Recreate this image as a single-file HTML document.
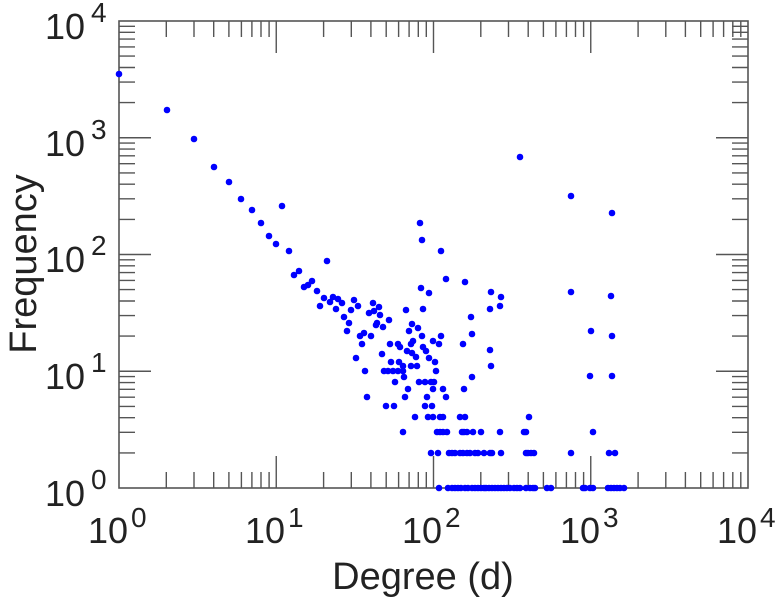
<!DOCTYPE html>
<html><head><meta charset="utf-8"><style>
html,body{margin:0;padding:0;background:#fff;}
svg{display:block;font-family:"Liberation Sans",Arial,sans-serif;}
</style></head><body>
<svg width="779" height="600" viewBox="0 0 779 600" xmlns="http://www.w3.org/2000/svg">
<g stroke="#555" stroke-width="1.4" fill="none">
<path d="M276.25 488v-32M433.5 488v-32M590.75 488v-32M276.25 21v32M433.5 21v32M590.75 21v32
M166.3 488v-16M194 488v-16M213.7 488v-16M228.9 488v-16M241.4 488v-16M251.9 488v-16M261 488v-16M269.1 488v-16
M323.6 488v-16M351.3 488v-16M370.9 488v-16M386.2 488v-16M398.6 488v-16M409.1 488v-16M418.3 488v-16M426.3 488v-16
M480.8 488v-16M508.5 488v-16M528.2 488v-16M543.4 488v-16M555.9 488v-16M566.4 488v-16M575.5 488v-16M583.6 488v-16
M638.1 488v-16M665.8 488v-16M685.4 488v-16M700.7 488v-16M713.1 488v-16M723.6 488v-16M732.8 488v-16M740.8 488v-16
M166.3 21v16M194 21v16M213.7 21v16M228.9 21v16M241.4 21v16M251.9 21v16M261 21v16M269.1 21v16
M323.6 21v16M351.3 21v16M370.9 21v16M386.2 21v16M398.6 21v16M409.1 21v16M418.3 21v16M426.3 21v16
M480.8 21v16M508.5 21v16M528.2 21v16M543.4 21v16M555.9 21v16M566.4 21v16M575.5 21v16M583.6 21v16
M638.1 21v16M665.8 21v16M685.4 21v16M700.7 21v16M713.1 21v16M723.6 21v16M732.8 21v16M740.8 21v16
M119 371.25h32M119 254.5h32M119 137.75h32M748 371.25h-32M748 254.5h-32M748 137.75h-32
M119 452.9h16M119 432.3h16M119 417.7h16M119 406.4h16M119 397.2h16M119 389.3h16M119 382.6h16M119 376.6h16
M119 336.1h16M119 315.6h16M119 301h16M119 289.6h16M119 280.4h16M119 272.6h16M119 265.8h16M119 259.8h16
M119 219.4h16M119 198.8h16M119 184.2h16M119 172.9h16M119 163.7h16M119 155.8h16M119 149.1h16M119 143.1h16
M119 102.6h16M119 82.1h16M119 67.5h16M119 56.1h16M119 46.9h16M119 39.1h16M119 32.3h16M119 26.3h16
M748 452.9h-16M748 432.3h-16M748 417.7h-16M748 406.4h-16M748 397.2h-16M748 389.3h-16M748 382.6h-16M748 376.6h-16
M748 336.1h-16M748 315.6h-16M748 301h-16M748 289.6h-16M748 280.4h-16M748 272.6h-16M748 265.8h-16M748 259.8h-16
M748 219.4h-16M748 198.8h-16M748 184.2h-16M748 172.9h-16M748 163.7h-16M748 155.8h-16M748 149.1h-16M748 143.1h-16
M748 102.6h-16M748 82.1h-16M748 67.5h-16M748 56.1h-16M748 46.9h-16M748 39.1h-16M748 32.3h-16M748 26.3h-16"/>
</g>
<rect x="119" y="21" width="629" height="467" fill="none" stroke="#555" stroke-width="1.6"/>
<path fill="none" stroke="#0000ff" stroke-width="6.6" stroke-linecap="round" d="M119 74h0M167 110h0M194 139h0M214 167h0M229 182h0M241 199h0M252 210h0M261 223h0M269 236h0M276 244h0M289 251h0M282 206h0M327 261h0
M420 223h0M422 240h0M441 251h0M294 275h0M299 271h0M304 287h0M308 285h0M312 281h0M317 291h0M324 298h0M320 306h0M330 302h0M333 297h0M338 299h0M342 303h0M336 309h0M344 317h0M349 323h0M347 331h0M351 310h0M354 300h0M358 306h0
M373 303h0M379 307h0M369 313h0M374 311h0M380 315h0M377 323h0M376 325h0M383 327h0M389 320h0M360 336h0M364 333h0M371 336h0M362 344h0M356 358h0M365 371h0M367 397h0M382 354h0M390 344h0M398 344h0M400 347h0M406 310h0M412 324h0M418 328h0M409 331h0M422 336h0M421 288h0M429 293h0M423 309h0M446 279h0M465 282h0M441 336h0M433 341h0M439 344h0M413 341h0M411 344h0M407 351h0M423 347h0M426 351h0M412 353h0M416 357h0M429 358h0M435 362h0M391 362h0M399 362h0M403 366h0M411 366h0M417 366h0M384 371h0M388 371h0M393 371h0M398 371h0M403 371h0M404 377h0M436 371h0M395 382h0M419 382h0M425 382h0M431 382h0M434 382h0M408 389h0M433 389h0M443 389h0M464 389h0M472 377h0M405 397h0M427 397h0M446 397h0M386 406h0M394 406h0M425 406h0M432 406h0
M463 344h0M471 317h0M472 334h0M491 292h0M501 297h0M490 309h0M500 306h0M490 350h0M491 366h0
M520 157h0M571 196h0M612 213h0M571 292h0M611 296h0M591 331h0M612 336h0M590 376h0M612 376h0M529 417h0M524 432h0M593 432h0
M415 417h0M428 417h0M433 417h0M440 417h0M443 417h0M460 417h0M465 417h0
M403 432h0M437 432h0M440 432h0M443 432h0M447 432h0M462 432h0M464 432h0M467 432h0M473 432h0M481 432h0M500 432h0M526 432h0
M431 453h0M438 453h0M449 453h0M452 453h0M455 453h0M460 453h0M463 453h0M467 453h0M470 453h0M475 453h0M478 453h0M484 453h0M490 453h0M492 453h0M501 453h0M526 453h0M528 453h0M531 453h0M534 453h0M571 453h0M609 453h0M615 453h0
M439 488h0M448 488h0M452 488h0M455 488h0M458 488h0M461 488h0M465 488h0M468 488h0M472 488h0M475 488h0M478 488h0M481 488h0M484 488h0M486 488h0M489 488h0M492 488h0M495 488h0M498 488h0M501 488h0M504 488h0M507 488h0M510 488h0M514 488h0M517 488h0M520 488h0M526 488h0M530 488h0M533 488h0M535 488h0M547 488h0M551 488h0M583 488h0M585 488h0M590 488h0M593 488h0M608 488h0M611 488h0M614 488h0M617 488h0M620 488h0M624 488h0"/>
<g fill="#222">
<text x="88" y="543" font-size="36">10</text><text x="131" y="527" font-size="28">0</text>
<text x="245" y="543" font-size="36">10</text><text x="288" y="527" font-size="28">1</text>
<text x="402" y="543" font-size="36">10</text><text x="445" y="527" font-size="28">2</text>
<text x="560" y="543" font-size="36">10</text><text x="603" y="527" font-size="28">3</text>
<text x="717" y="543" font-size="36">10</text><text x="760" y="527" font-size="28">4</text>
<text x="45" y="506" font-size="36">10</text><text x="91" y="489" font-size="28">0</text>
<text x="45" y="389" font-size="36">10</text><text x="91" y="372" font-size="28">1</text>
<text x="45" y="272" font-size="36">10</text><text x="91" y="255" font-size="28">2</text>
<text x="45" y="156" font-size="36">10</text><text x="91" y="139" font-size="28">3</text>
<text x="45" y="39" font-size="36">10</text><text x="91" y="22" font-size="28">4</text>
</g>
<text x="423" y="589" font-size="38" text-anchor="middle" fill="#222">Degree (d)</text>
<text transform="translate(36,264) rotate(-90)" font-size="38" text-anchor="middle" fill="#222">Frequency</text>
</svg>
</body></html>
